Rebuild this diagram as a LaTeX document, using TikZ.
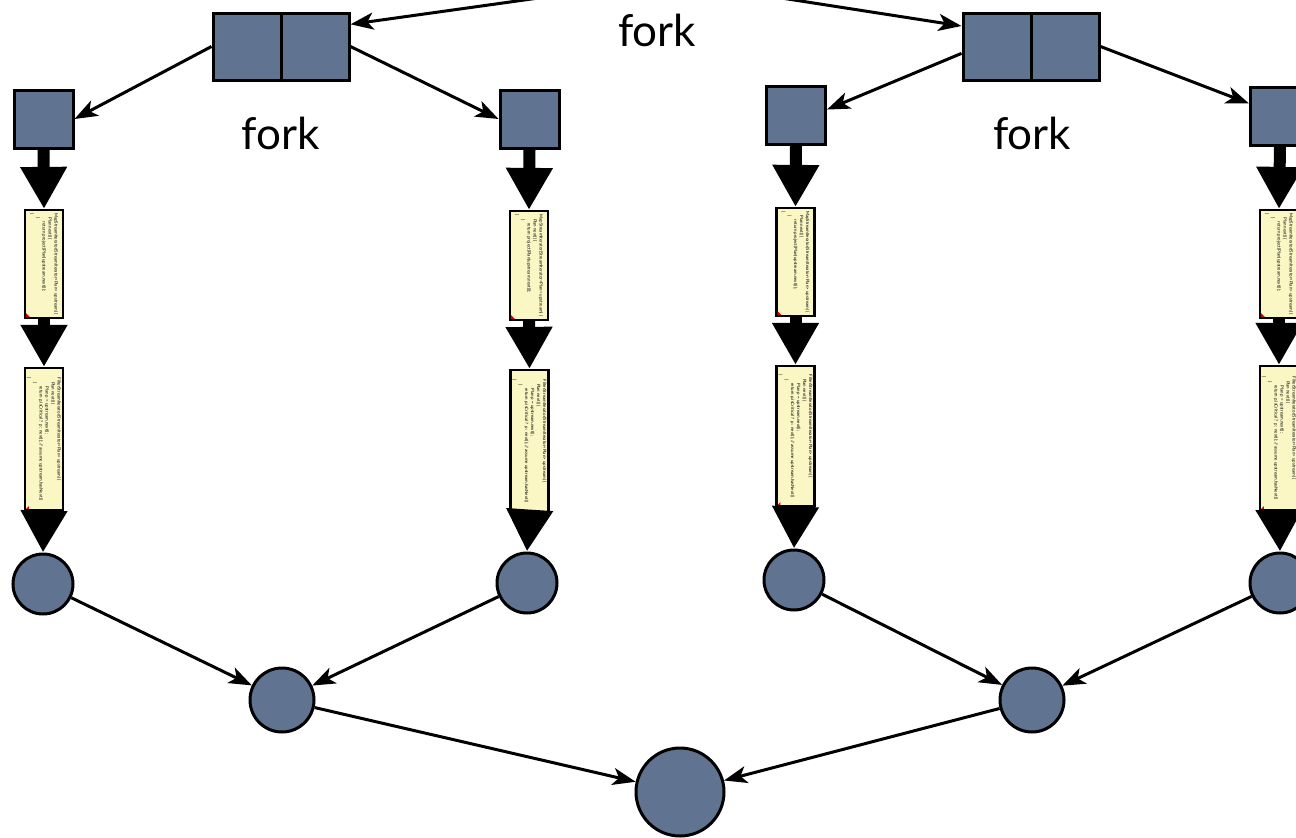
\documentclass[tikz,border=0pt]{standalone}
\usepackage{fontspec}
\setmainfont{Lato}
\usetikzlibrary{arrows.meta,calc}

\definecolor{slate}{RGB}{96,116,146}
\definecolor{codebg}{RGB}{250,247,196}

\tikzset{
  task/.style={draw=black, line width=3pt, fill=slate, inner sep=0pt},
  sq/.style={task, rectangle, minimum width=59pt, minimum height=58pt},
  half/.style={task, rectangle, minimum width=68pt, minimum height=67pt},
  res/.style={task, circle, minimum size=60pt},
  midres/.style={task, circle, minimum size=64pt},
  finalres/.style={task, circle, minimum size=88pt},
  codebox/.style={draw=black, line width=2.2pt, fill=codebg, inner sep=0pt, minimum width=38pt},
  codetext/.style={rotate=-90, align=left, inner sep=0pt,
    font=\fontsize{4.4}{6}\selectfont},
  edge/.style={line width=3pt, -{Stealth[length=23pt,width=17pt,inset=6pt]}},
  flow/.style={line width=12pt, -{Triangle[length=42pt,width=44pt]}},
  lbl/.style={font=\fontsize{44}{48}\selectfont}
}

\newcommand{\mapcode}{MapStreamIterator(StreamIterator<Plan> upstream) \{\\
\quad Plan next() \{\\
\qquad return project(Plan(upstream.next());\\
\quad \}\\
\}}
\newcommand{\filtcode}{FilterStreamIterator(StreamIterator<Plan> upstream) \{\\
\quad Plan next() \{\\
\qquad Plan p = upstream.next();\\
\qquad return p.isCritical ? p : next(); // assume upstream.hasNext()\\
\quad \}\\
\}}

\begin{document}
\begin{tikzpicture}[x=1pt, y=-1pt]
\useasboundingbox (0,0) rectangle (1296,838);
\clip (0,0) rectangle (1296,838);

% top-level fork and the two split tasks
\node[lbl] (forkTop) at (657,30) {fork};
\coordinate (fromL) at (560,-5);
\coordinate (fromR) at (762,-5);

\node[half] (dlA) at (247,46.5) {};
\node[half] (dlB) at (315,46.5) {};
\node[half] (drA) at (997,46.5) {};
\node[half] (drB) at (1065,46.5) {};

\draw[edge] (fromL) -- (dlB.32);
\draw[edge] (fromR) -- (drA.150);

% second-level forks
\node[lbl] (forkL) at (281,133) {fork};
\node[lbl] (forkR) at (1032,133) {fork};

\node[sq] (sqA) at (43.5,119) {};
\node[sq] (sqB) at (529.5,119) {};
\node[sq] (sqC) at (796,115) {};
\node[sq] (sqD) at (1280,116) {};

\draw[edge] (dlA.west) -- (sqA.east);
\draw[edge] (dlB.east) -- (sqB.west);
\draw[edge] (drA.191) -- (sqC.10);
\draw[edge] (drB.east) -- (sqD.158);

% map stages
\foreach \n/\x/\ya/\yb in {mA/44/210/318, mB/529/211/320, mC/795.5/208/316, mD/1279/210/318}{
  \node[codebox, minimum height={\yb-\ya}] (\n) at (\x,{(\ya+\yb)/2}) {};
  \node[codetext] (\n t) at (\n.center) {\mapcode};
  \fill[red!80!black] (\n.south west) ++(2,-2) -- ++(4,0) -- ++(-4,-4) -- cycle;
}
% filter stages
\foreach \n/\x/\ya/\yb in {fA/44/368/510, fB/529.5/370/512, fC/795.5/366/506, fD/1279/366/510}{
  \node[codebox, minimum height={\yb-\ya}] (\n) at (\x,{(\ya+\yb)/2}) {};
  \node[codetext] (\n t) at (\n.center) {\filtcode};
  \fill[red!80!black] (\n.south west) ++(2,-2) -- ++(3,0) -- ++(0,-3) -- cycle;
}

% leaf results
\node[res] (cA) at (43,584) {};
\node[res] (cB) at (527,583) {};
\node[res] (cC) at (794,580) {};
\node[res] (cD) at (1280,583) {};

% pipelines
\foreach \s/\m/\f/\c in {sqA/mA/fA/cA, sqB/mB/fB/cB, sqC/mC/fC/cC, sqD/mD/fD/cD}{
  \draw[flow] (\s.south) -- (\m.north);
  \draw[flow] (\m.south) -- (\f.north);
  \draw[flow] (\f.south) -- (\c.north);
}

% joins
\node[midres] (jL) at (282,700) {};
\node[midres] (jR) at (1032,700) {};
\node[finalres] (final) at (680,792) {};

\draw[edge] (cA) -- (jL);
\draw[edge] (cB) -- (jL);
\draw[edge] (cC) -- (jR);
\draw[edge] (cD) -- (jR);
\draw[edge] (jL) -- (final);
\draw[edge] (jR) -- (final);
\end{tikzpicture}
\end{document}
